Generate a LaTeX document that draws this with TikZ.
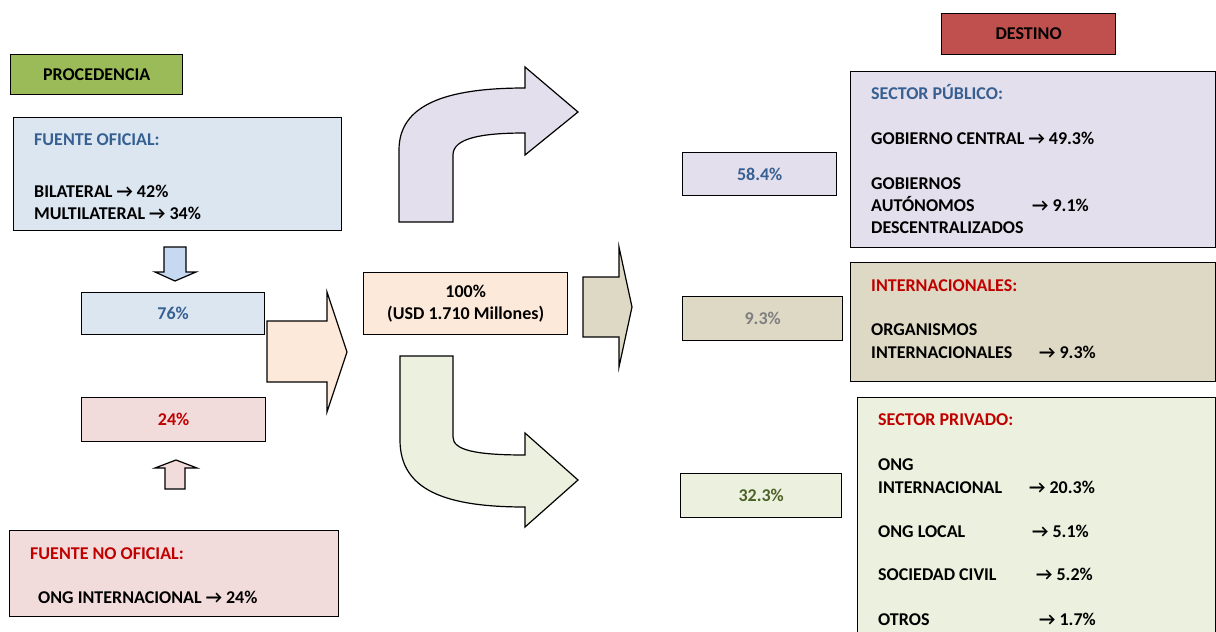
\documentclass[tikz,border=0pt]{standalone}
\usepackage{fontspec}
\setmainfont{Carlito}

\definecolor{cProc}{HTML}{9BBB59}
\definecolor{cDest}{HTML}{C0504D}
\definecolor{cBlueBox}{HTML}{DCE6F1}
\definecolor{cBlueArr}{HTML}{C6D9F1}
\definecolor{cPeach}{HTML}{FDE9D9}
\definecolor{cPink}{HTML}{F2DCDB}
\definecolor{cLav}{HTML}{E4DFEC}
\definecolor{cTan}{HTML}{DDD9C4}
\definecolor{cGreen}{HTML}{EBF1DE}
\definecolor{tBlue}{HTML}{376092}
\definecolor{tRed}{HTML}{C00000}
\definecolor{tOlive}{HTML}{4F6228}
\definecolor{tGray}{HTML}{7F7F7F}

\begin{document}
\begin{tikzpicture}[x=1pt,y=-1pt,
  box/.style={draw=black, line width=1.3pt, rectangle, inner sep=0pt,
    anchor=north west, font=\fontsize{18}{22}\selectfont\bfseries},
  txt/.style={anchor=base west, inner sep=0pt,
    font=\fontsize{18}{22}\selectfont\bfseries},
  blockarrow/.style={draw=black, line width=1.2pt, line join=miter}]

\useasboundingbox (0,0) rectangle (1216,632);

% Procedencia (left column)
\node[box, fill=cProc, minimum width=172, minimum height=40] (proc) at (10,54) {PROCEDENCIA};
\node[box, fill=cBlueBox, minimum width=328, minimum height=113] (oficial) at (13,117) {};
\node[box, fill=cBlueBox, minimum width=183, minimum height=42, text=tBlue] (p76) at (81,292) {76\%};
\node[box, fill=cPink, minimum width=184, minimum height=44, text=tRed] (p24) at (81,397) {24\%};
\node[box, fill=cPink, minimum width=329, minimum height=86] (nooficial) at (9,530) {};

\node[txt, text=tBlue] (oftitle) at (34,145) {FUENTE OFICIAL:};
\node[txt] (bilat) at (34,197) {BILATERAL → 42\%};
\node[txt] (multi) at (34,219) {MULTILATERAL → 34\%};

\node[txt, text=tRed] (notitle) at (30,559) {FUENTE NO OFICIAL:};
\node[txt] (ongint) at (38,603) {ONG INTERNACIONAL → 24\%};

% Block arrows, left column
\draw[blockarrow, fill=cBlueArr] (164,247) -- (186,247) -- (186,272) -- (196,272)
  -- (175,281) -- (155,272) -- (164,272) -- cycle;
\draw[blockarrow, fill=cPink] (165,489) -- (185,489) -- (185,468) -- (197,468)
  -- (176,460) -- (155,468) -- (165,468) -- cycle;
\draw[blockarrow, fill=cPeach] (267,321) -- (327,321) -- (327,292) -- (347,352)
  -- (327,412) -- (327,382) -- (267,382) -- cycle;

% Total
\node[box, fill=cPeach, minimum width=204, minimum height=62, align=center] (total) at (363,272)
  {100\%\\(USD 1.710 Millones)};

% Block arrows, middle
\draw[blockarrow, fill=cLav] (399,222) -- (399,150) .. controls (399,105) and (445,88) .. (525,88)
  -- (525,67) -- (578,112) -- (525,155) -- (525,133)
  .. controls (482,133) and (453,138) .. (453,155) -- (453,222) -- cycle;
\draw[blockarrow, fill=cTan] (583,277) -- (619,277) -- (619,247) -- (632,307)
  -- (619,367) -- (619,337) -- (583,337) -- cycle;
\draw[blockarrow, fill=cGreen] (400,356) -- (453,356) -- (453,437)
  .. controls (453,450) and (475,455) .. (525,455) -- (525,433) -- (578,480)
  -- (525,527) -- (525,507) .. controls (445,507) and (400,490) .. (400,440) -- cycle;

% Destino (right column)
\node[box, fill=cDest, minimum width=174, minimum height=41] (dest) at (941,13) {DESTINO};

\node[box, fill=cLav, minimum width=154, minimum height=43, text=tBlue] (p584) at (682,152) {58.4\%};
\node[box, fill=cTan, minimum width=160, minimum height=44, text=tGray] (p93) at (682,296) {9.3\%};
\node[box, fill=cGreen, minimum width=161, minimum height=44, text=tOlive] (p323) at (680,473) {32.3\%};

\node[box, fill=cLav, minimum width=365, minimum height=176] (publico) at (850,71) {};
\node[box, fill=cTan, minimum width=365, minimum height=119] (inter) at (850,262) {};
\node[box, fill=cGreen, minimum width=358, minimum height=245] (privado) at (857,397) {};

\node[txt, text=tBlue] (pubtitle) at (871,99) {SECTOR PÚBLICO:};
\node[txt] (gcentral) at (871,144) {GOBIERNO CENTRAL → 49.3\%};
\node[txt] (gob1) at (871,189) {GOBIERNOS};
\node[txt] (gob2) at (871,211) {AUTÓNOMOS};
\node[txt] (gobval) at (1032,211) {→ 9.1\%};
\node[txt] (gob3) at (871,233) {DESCENTRALIZADOS};

\node[txt, text=tRed] (inttitle) at (871,291) {INTERNACIONALES:};
\node[txt] (org1) at (871,335) {ORGANISMOS};
\node[txt] (org2) at (871,358) {INTERNACIONALES};
\node[txt] (orgval) at (1039,358) {→ 9.3\%};

\node[txt, text=tRed] (privtitle) at (878,425) {SECTOR PRIVADO:};
\node[txt] (ong1) at (878,470) {ONG};
\node[txt] (ong2) at (878,493) {INTERNACIONAL};
\node[txt] (ongval) at (1029,493) {→ 20.3\%};
\node[txt] (local) at (878,537) {ONG LOCAL};
\node[txt] (localval) at (1032,537) {→ 5.1\%};
\node[txt] (civil) at (878,580) {SOCIEDAD CIVIL};
\node[txt] (civilval) at (1036,580) {→ 5.2\%};
\node[txt] (otros) at (878,625) {OTROS};
\node[txt] (otrosval) at (1039,625) {→ 1.7\%};
\end{tikzpicture}
\end{document}
